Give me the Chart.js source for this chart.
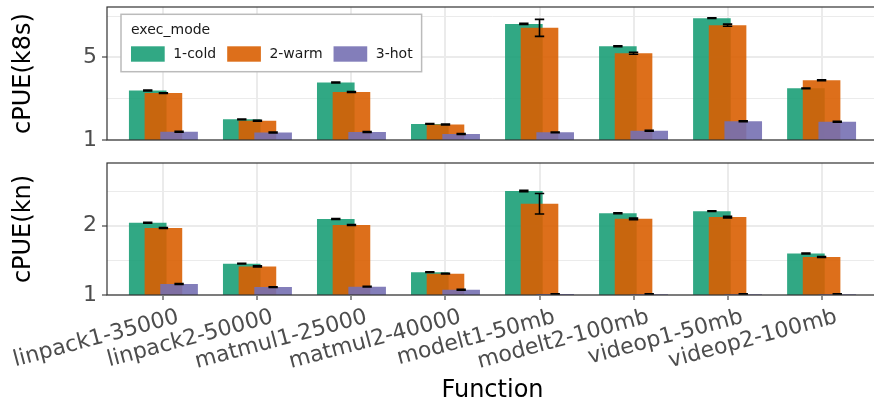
<!DOCTYPE html>
<html><head><meta charset="utf-8">
<script src="https://cdn.jsdelivr.net/npm/chart.js@4/dist/chart.umd.min.js"></script>
<style>
html,body{margin:0;padding:0;background:#fff;overflow:hidden;width:874px;height:401px;position:relative;}
canvas{position:absolute;left:0;}
#c1{top:0;}
#c2{top:150px;}
</style></head><body>
<canvas id="c1" width="878" height="150"></canvas>
<canvas id="c2" width="878" height="251"></canvas>
<script>
const CATEGORIES = ['linpack1-35000','linpack2-50000','matmul1-25000','matmul2-40000','modelt1-50mb','modelt2-100mb','videop1-50mb','videop2-100mb'];
const MODES = ['1-cold','2-warm','3-hot'];
const LEGEND_TITLE = 'exec_mode';
const X_TITLE = 'Function';
const K8S_TITLE = 'cPUE(k8s)';
const KN_TITLE = 'cPUE(kn)';

const K8S_COLD = [3.40, 2.00, 3.78, 1.78, 6.62, 5.54, 6.90, 3.50];
const K8S_WARM = [3.27, 1.93, 3.32, 1.75, 6.43, 5.20, 6.56, 3.89];
const K8S_HOT  = [1.40, 1.36, 1.39, 1.29, 1.37, 1.45, 1.91, 1.88];
const K8S_COLD_ERR = [0.02, 0.02, 0.02, 0.02, 0.03, 0.02, 0.02, 0.02];
const K8S_WARM_ERR = [0.02, 0.02, 0.02, 0.02, 0.41, 0.05, 0.05, 0.02];
const K8S_HOT_ERR  = [0.02, 0.02, 0.02, 0.02, 0.02, 0.02, 0.02, 0.02];

const KN_COLD = [2.043, 1.452, 2.097, 1.330, 2.500, 2.180, 2.210, 1.600];
const KN_WARM = [1.967, 1.413, 2.010, 1.307, 2.317, 2.100, 2.125, 1.548];
const KN_HOT  = [1.159, 1.115, 1.120, 1.076, 1.014, 1.012, 1.012, 1.012];
const KN_COLD_ERR = [0.006, 0.005, 0.008, 0.005, 0.010, 0.005, 0.005, 0.007];
const KN_WARM_ERR = [0.005, 0.007, 0.007, 0.005, 0.147, 0.012, 0.012, 0.007];
const KN_HOT_ERR  = [0.005, 0.005, 0.005, 0.005, 0.005, 0.005, 0.005, 0.005];

const K8S_MAJOR = [1, 5];
const K8S_MINOR = [3, 7];
const KN_MAJOR = [1, 2];
const KN_MINOR = [1.5, 2.5];
const K8S_RANGE = [1, 7.44];
const KN_RANGE = [1, 2.905];

const COLORS = ['rgba(27,158,119,0.9)', 'rgba(217,95,2,0.9)', 'rgba(117,112,179,0.9)'];
const FONT = "'DejaVu Sans', sans-serif";
const DODGE = 0.5, BAR_W = 0.4, ERR_W = 0.1;

function makeDatasets(series, errs) {
  return series.map((vals, j) => ({
    label: MODES[j],
    order: series.length - j,
    data: vals.map((v, i) => ({ x: i + (j - 1) * DODGE / 3, y: v, e: errs[j][i] })),
    backgroundColor: COLORS[j],
    borderWidth: 0,
    grouped: false,
    categoryPercentage: 1,
    barPercentage: BAR_W / (DODGE / 3),
  }));
}

const errorAndBorder = {
  id: 'errorAndBorder',
  afterDatasetsDraw(chart) {
    const { ctx, chartArea: a } = chart;
    const x = chart.scales.x, y = chart.scales.y;
    ctx.save();
    ctx.beginPath();
    ctx.rect(a.left, a.top, a.right - a.left, a.bottom - a.top);
    ctx.clip();
    ctx.strokeStyle = '#000';
    ctx.lineWidth = 1.6;
    chart.data.datasets.forEach(ds => {
      ds.data.forEach(p => {
        const px = x.getPixelForValue(p.x);
        const hw = (x.getPixelForValue(p.x + ERR_W / 2) - x.getPixelForValue(p.x - ERR_W / 2)) / 2;
        const yt = y.getPixelForValue(p.y + p.e), yb = y.getPixelForValue(p.y - p.e);
        ctx.beginPath();
        ctx.moveTo(px - hw, yt); ctx.lineTo(px + hw, yt);
        ctx.moveTo(px, yt); ctx.lineTo(px, yb);
        ctx.moveTo(px - hw, yb); ctx.lineTo(px + hw, yb);
        ctx.stroke();
      });
    });
    ctx.restore();
    ctx.save();
    ctx.strokeStyle = '#333333';
    ctx.lineWidth = 1.2;
    ctx.strokeRect(a.left, a.top, a.right - a.left + 5, a.bottom - a.top);
    ctx.restore();
  }
};

const legendBox = {
  id: 'legendBox',
  afterDraw(chart) {
    const ctx = chart.ctx;
    ctx.save();
    ctx.font = '14px ' + FONT;
    const x0 = 121, y0 = 14.3, h = 57.4, padX = 10, keyW = 33.7, keyH = 15.4, gapKT = 8.5, gapItem = 11, padR = 9;
    let x = x0 + padX;
    const items = chart.data.datasets.map(ds => {
      const w = ctx.measureText(ds.label).width;
      const it = { x, label: ds.label, color: ds.backgroundColor };
      x += keyW + gapKT + w + gapItem;
      return it;
    });
    const right = x - gapItem + padR;
    ctx.fillStyle = '#fff';
    ctx.fillRect(x0, y0, right - x0, h);
    ctx.strokeStyle = '#bbbbbb';
    ctx.lineWidth = 1.5;
    ctx.strokeRect(x0, y0, right - x0, h);
    ctx.fillStyle = '#1a1a1a';
    ctx.textBaseline = 'middle';
    ctx.fillText(LEGEND_TITLE, x0 + padX, 30.5);
    items.forEach(it => {
      ctx.fillStyle = it.color;
      ctx.fillRect(it.x, 46.3, keyW, keyH);
      ctx.fillStyle = '#1a1a1a';
      ctx.fillText(it.label, it.x + keyW + gapKT, 54.3);
    });
    ctx.restore();
  }
};

function yAxis(title, range, major, minor) {
  return {
    type: 'linear', min: range[0], max: range[1],
    afterBuildTicks(s) { s.ticks = [...major, ...minor].sort((a, b) => a - b).map(v => ({ value: v })); },
    afterFit(s) { s.width = 107; s.paddingTop = 0; s.paddingBottom = 0; },
    ticks: { autoSkip: false, font: { family: FONT, size: 22 }, color: '#4d4d4d', padding: 5,
      callback: (v) => major.includes(v) ? String(v) : '' },
    grid: { color: '#ebebeb',
      lineWidth: (c) => (c.tick && major.includes(c.tick.value)) ? 2 : 1,
      tickLength: 5,
      tickColor: (c) => (c.tick && major.includes(c.tick.value)) ? '#333333' : 'rgba(0,0,0,0)',
      tickWidth: 1.1 },
    border: { display: false },
    title: { display: true, text: title, color: '#000', font: { family: FONT, size: 24, lineHeight: 1.2 }, padding: { top: 9.6, bottom: 0 } },
  };
}

function xAxis(bottom) {
  const ax = {
    type: 'linear', min: -0.6, max: CATEGORIES.length - 0.4, offset: false,
    afterBuildTicks(s) { s.ticks = CATEGORIES.map((c, i) => ({ value: i })); },
    border: { display: false },
  };
  if (!bottom) {
    ax.afterFit = (s) => { s.height = 10; s.paddingLeft = 0; s.paddingRight = 0; };
    ax.ticks = { display: false };
    ax.grid = { color: '#ebebeb', lineWidth: 2, drawTicks: false, offset: false };
  } else {
    ax.afterFit = (s) => { s.height = 106; s.paddingLeft = 0; s.paddingRight = 0; };
    ax.ticks = { autoSkip: false, minRotation: 15, maxRotation: 15, font: { family: FONT, size: 22 }, color: '#4d4d4d',
      padding: 4, labelOffset: 15, callback: (v) => CATEGORIES[v] };
    ax.grid = { color: '#ebebeb', lineWidth: 2, tickLength: 5, tickColor: '#333333', tickWidth: 1.1, offset: false };
    ax.title = { display: true, text: X_TITLE, color: '#000', font: { family: FONT, size: 24, lineHeight: 0.85 }, padding: 0 };
  }
  return ax;
}

function makeChart(id, series, errs, title, range, major, minor, bottom, padTop, extraPlugins) {
  return new Chart(document.getElementById(id), {
    type: 'bar',
    data: { datasets: makeDatasets(series, errs) },
    options: {
      responsive: false, animation: false, devicePixelRatio: 1,
      layout: { padding: { top: padTop, left: 0, right: 0, bottom: 0 } },
      plugins: { legend: { display: false }, tooltip: { enabled: false } },
      scales: { x: xAxis(bottom), y: yAxis(title, range, major, minor) },
    },
    plugins: [errorAndBorder, ...extraPlugins],
  });
}

makeChart('c1', [K8S_COLD, K8S_WARM, K8S_HOT], [K8S_COLD_ERR, K8S_WARM_ERR, K8S_HOT_ERR],
  K8S_TITLE, K8S_RANGE, K8S_MAJOR, K8S_MINOR, false, 7, [legendBox]);
makeChart('c2', [KN_COLD, KN_WARM, KN_HOT], [KN_COLD_ERR, KN_WARM_ERR, KN_HOT_ERR],
  KN_TITLE, KN_RANGE, KN_MAJOR, KN_MINOR, true, 13, []);
</script>
</body></html>
